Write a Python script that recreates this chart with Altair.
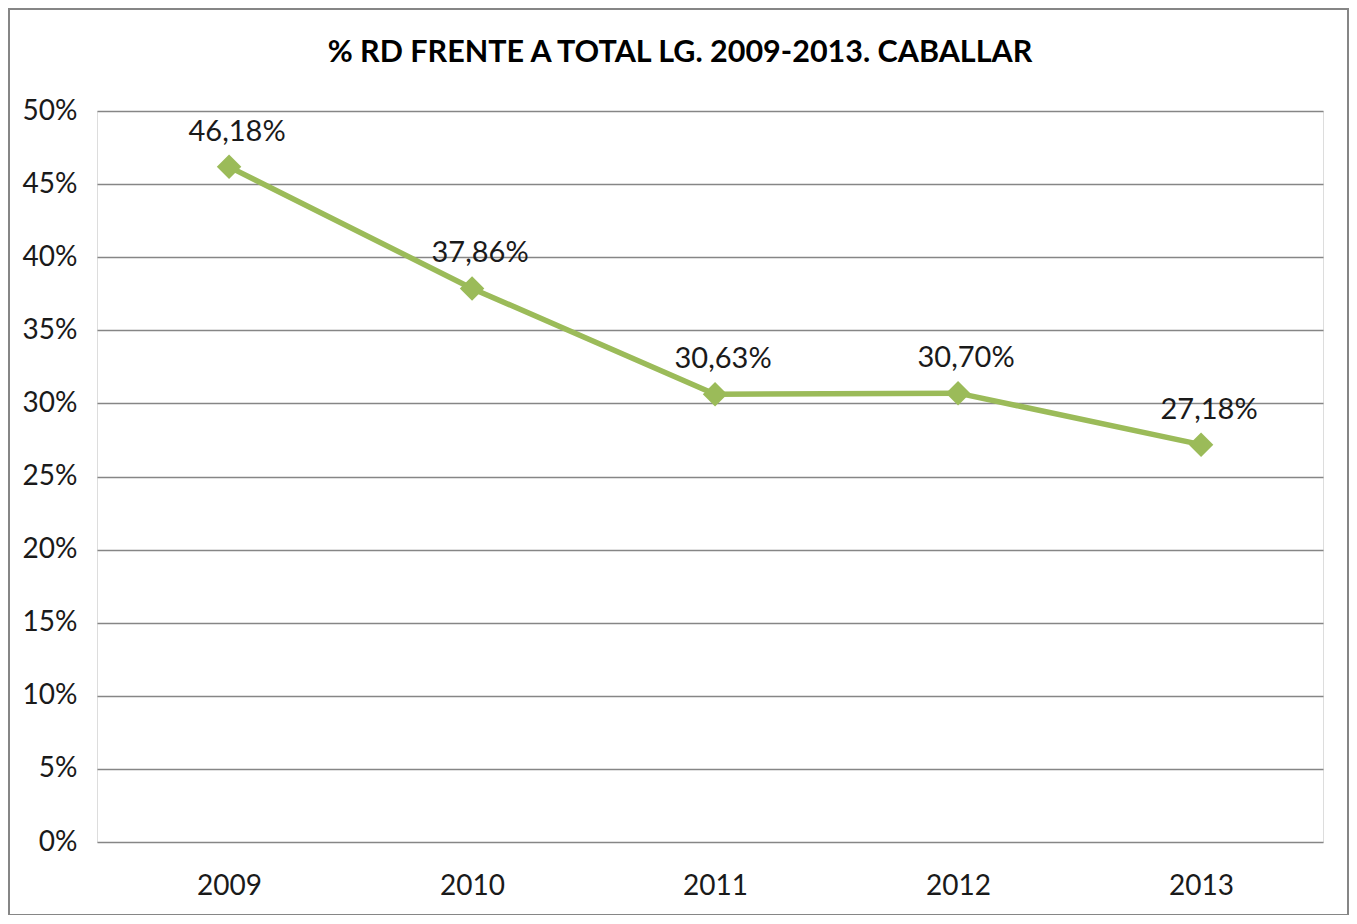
import altair as alt
import pandas as pd

years = ["2009", "2010", "2011", "2012", "2013"]
values = [46.18, 37.86, 30.63, 30.70, 27.18]
labels = [f"{v:.2f}%".replace(".", ",") for v in values]
title = "% RD FRENTE A TOTAL LG. 2009-2013. CABALLAR"

df = pd.DataFrame({"year": years, "value": [v / 100 for v in values], "label": labels})

FONT = "Lato"
GREEN = "#9BBB59"
GRID = "#868686"

x = alt.X("year:O", title=None, sort=years,
          scale=alt.Scale(type="point", padding=0.5226, align=0.52),
          axis=alt.Axis(labelAngle=0, ticks=False, domain=False, labelPadding=30,
                        labelFontSize=28, labelFont=FONT, labelColor="#1a1a1a"))
y = alt.Y("value:Q", title=None,
          scale=alt.Scale(domain=[0, 0.5], nice=False),
          axis=alt.Axis(values=[i * 0.05 for i in range(11)], format=".0%", ticks=False,
                        domain=False, labelPadding=20, labelFontSize=28, labelFont=FONT,
                        labelColor="#1a1a1a", gridColor=GRID, gridWidth=1.5))

base = alt.Chart(df)
line = base.mark_line(color=GREEN, strokeWidth=5.5).encode(x=x, y=y)
pts = base.mark_point(shape="diamond", filled=True, size=600, color=GREEN, opacity=1).encode(x=x, y=y)
txt = base.mark_text(dy=-35, dx=8, fontSize=29, font=FONT, color="#1a1a1a").encode(x=x, y=y, text="label:N")

single = alt.Chart(pd.DataFrame({"title": [title]}))
frame = single.mark_rect(filled=False, stroke=GRID, strokeWidth=2).encode(
    x=alt.value(-88), x2=alt.value(1251), y=alt.value(-102), y2=alt.value(804))
head = single.mark_text(fontSize=30.5, font=FONT, fontWeight="bold", color="#000000",
                        align="center", baseline="alphabetic").encode(
    x=alt.value(583), y=alt.value(-49), text="title:N")

chart = alt.layer(frame, head, line, pts, txt).properties(
    width=1226, height=731,
    autosize=alt.AutoSizeParams(type="none"),
    padding={"left": 89, "top": 103, "right": 26, "bottom": 73},
).configure_view(stroke=None).configure(background="white")

chart.save("out.html", embed_options={"renderer": "svg", "actions": False})
